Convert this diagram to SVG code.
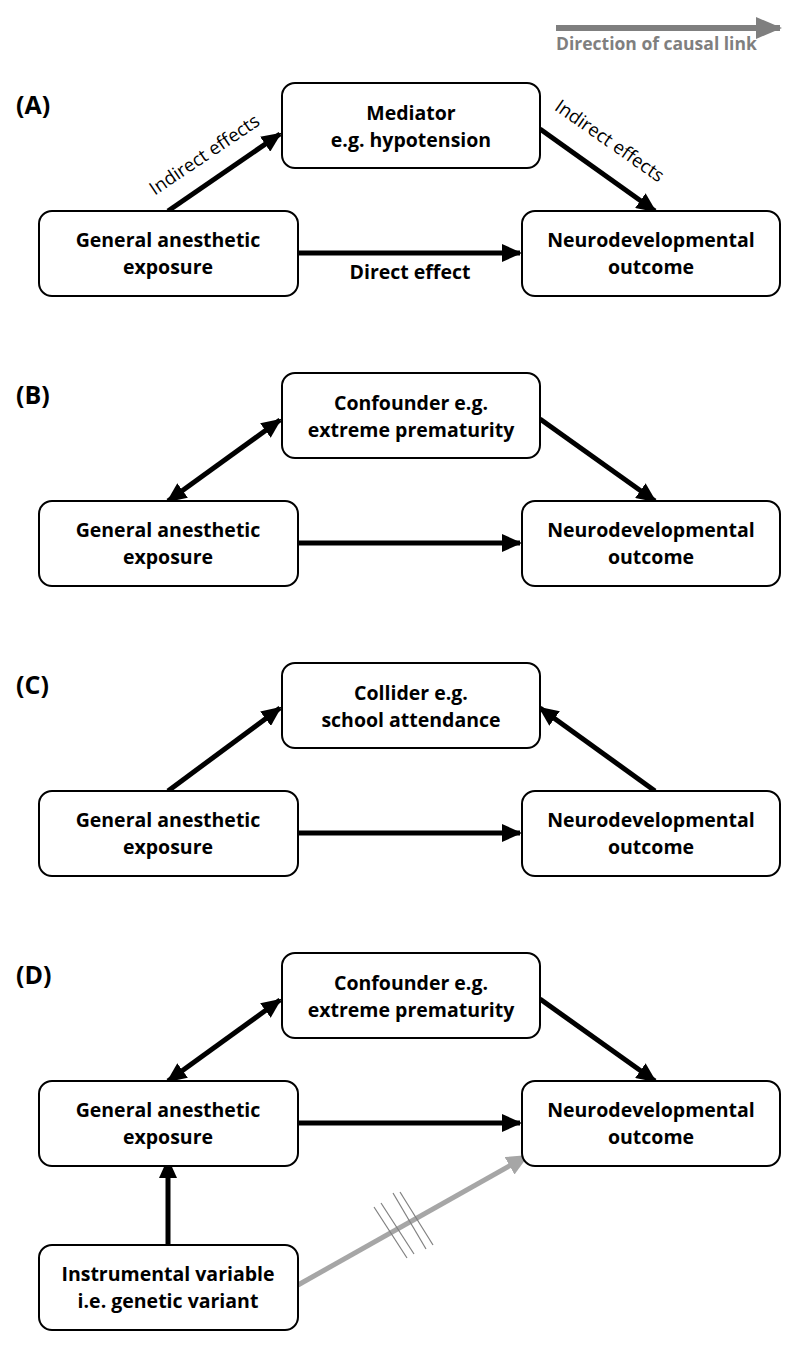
<svg xmlns="http://www.w3.org/2000/svg" width="800" height="1350" viewBox="0 0 800 1350">
<style>
.box{fill:#fff;stroke:#000;stroke-width:2}
.t{font-family:"Open Sans","Liberation Sans",sans-serif;font-weight:bold;font-size:19.5px;text-anchor:middle;fill:#000}
.lab{font-family:"Open Sans","Liberation Sans",sans-serif;font-weight:bold;font-size:25px;fill:#000}
.e{stroke:#000;stroke-width:5;fill:none}
.s{font-family:"Open Sans","Liberation Sans",sans-serif;font-size:18.5px;fill:#000}
</style>
<defs>
<marker id="ah" markerUnits="userSpaceOnUse" markerWidth="20" markerHeight="18" refX="18" refY="9" orient="auto"><path d="M0,0 L20,9 L0,18 Z" fill="#000"/></marker>
<marker id="as" markerUnits="userSpaceOnUse" markerWidth="20" markerHeight="18" refX="2" refY="9" orient="auto"><path d="M20,0 L0,9 L20,18 Z" fill="#000"/></marker>
<marker id="ag" markerUnits="userSpaceOnUse" markerWidth="22" markerHeight="20" refX="20" refY="10" orient="auto"><path d="M0,0 L22,10 L0,20 Z" fill="#a6a6a6"/></marker>
<marker id="ag2" markerUnits="userSpaceOnUse" markerWidth="26" markerHeight="22" refX="24" refY="11" orient="auto"><path d="M0,0 L26,11 L0,22 Z" fill="#7f7f7f"/></marker>
</defs>

<g id="legend">
<line x1="556" y1="28" x2="780" y2="28" stroke="#7f7f7f" stroke-width="6" marker-end="url(#ag2)"/>
<text x="556" y="50" font-family="Open Sans, Liberation Sans, sans-serif" font-weight="bold" font-size="17.5" fill="#7f7f7f">Direction of causal link</text>
</g>

<g id="connectors">
<!-- A -->
<line class="e" x1="168" y1="211" x2="280" y2="134" marker-end="url(#ah)"/>
<line class="e" x1="540" y1="129" x2="655" y2="211" marker-end="url(#ah)"/>
<line class="e" x1="298" y1="253" x2="520" y2="253" marker-end="url(#ah)"/>
<!-- B -->
<line class="e" x1="168" y1="501" x2="280" y2="420" marker-start="url(#as)" marker-end="url(#ah)"/>
<line class="e" x1="540" y1="419" x2="655" y2="501" marker-end="url(#ah)"/>
<line class="e" x1="298" y1="543" x2="520" y2="543" marker-end="url(#ah)"/>
<!-- C -->
<line class="e" x1="168" y1="791" x2="280" y2="708" marker-end="url(#ah)"/>
<line class="e" x1="655" y1="791" x2="540" y2="708" marker-end="url(#ah)"/>
<line class="e" x1="298" y1="833" x2="520" y2="833" marker-end="url(#ah)"/>
<!-- D -->
<line class="e" x1="168" y1="1081" x2="280" y2="1000" marker-start="url(#as)" marker-end="url(#ah)"/>
<line class="e" x1="540" y1="999" x2="655" y2="1081" marker-end="url(#ah)"/>
<line class="e" x1="298" y1="1123" x2="520" y2="1123" marker-end="url(#ah)"/>
<line class="e" x1="168" y1="1245" x2="168" y2="1160" marker-end="url(#ah)"/>
<line x1="298" y1="1285" x2="527" y2="1156" stroke="#a6a6a6" stroke-width="5" marker-end="url(#ag)"/>
<g stroke="#808080" stroke-width="1.2">
<line x1="374" y1="1207" x2="407" y2="1258"/>
<line x1="381" y1="1203" x2="414" y2="1254"/>
<line x1="393" y1="1193" x2="426" y2="1249"/>
<line x1="400" y1="1192" x2="433" y2="1245"/>
</g>
<text class="s" transform="translate(208,160) rotate(-34)" text-anchor="middle">Indirect effects</text>
<text class="s" transform="translate(606,146) rotate(35)" text-anchor="middle">Indirect effects</text>
<text class="t" x="410" y="279" font-size="16.5">Direct effect</text>
</g>

<g id="labels">
<text class="lab" x="16" y="114">(A)</text>
<text class="lab" x="16" y="404">(B)</text>
<text class="lab" x="16" y="694">(C)</text>
<text class="lab" x="16" y="984">(D)</text>
</g>

<g id="A-mediator"><rect class="box" x="282" y="83" width="258" height="85" rx="13"/><text class="t" x="411" y="120">Mediator</text><text class="t" x="411" y="147">e.g. hypotension</text></g>
<g id="A-exposure"><rect class="box" x="39" y="211" width="259" height="85" rx="13"/><text class="t" x="168" y="247">General anesthetic</text><text class="t" x="168" y="274">exposure</text></g>
<g id="A-outcome"><rect class="box" x="522" y="211" width="258" height="85" rx="13"/><text class="t" x="651" y="247">Neurodevelopmental</text><text class="t" x="651" y="274">outcome</text></g>

<g id="B-confounder"><rect class="box" x="282" y="373" width="258" height="85" rx="13"/><text class="t" x="411" y="410">Confounder e.g.</text><text class="t" x="411" y="437">extreme prematurity</text></g>
<g id="B-exposure"><rect class="box" x="39" y="501" width="259" height="85" rx="13"/><text class="t" x="168" y="537">General anesthetic</text><text class="t" x="168" y="564">exposure</text></g>
<g id="B-outcome"><rect class="box" x="522" y="501" width="258" height="85" rx="13"/><text class="t" x="651" y="537">Neurodevelopmental</text><text class="t" x="651" y="564">outcome</text></g>

<g id="C-collider"><rect class="box" x="282" y="663" width="258" height="85" rx="13"/><text class="t" x="411" y="700">Collider e.g.</text><text class="t" x="411" y="727">school attendance</text></g>
<g id="C-exposure"><rect class="box" x="39" y="791" width="259" height="85" rx="13"/><text class="t" x="168" y="827">General anesthetic</text><text class="t" x="168" y="854">exposure</text></g>
<g id="C-outcome"><rect class="box" x="522" y="791" width="258" height="85" rx="13"/><text class="t" x="651" y="827">Neurodevelopmental</text><text class="t" x="651" y="854">outcome</text></g>

<g id="D-confounder"><rect class="box" x="282" y="953" width="258" height="85" rx="13"/><text class="t" x="411" y="990">Confounder e.g.</text><text class="t" x="411" y="1017">extreme prematurity</text></g>
<g id="D-exposure"><rect class="box" x="39" y="1081" width="259" height="85" rx="13"/><text class="t" x="168" y="1117">General anesthetic</text><text class="t" x="168" y="1144">exposure</text></g>
<g id="D-outcome"><rect class="box" x="522" y="1081" width="258" height="85" rx="13"/><text class="t" x="651" y="1117">Neurodevelopmental</text><text class="t" x="651" y="1144">outcome</text></g>
<g id="D-instrument"><rect class="box" x="39" y="1245" width="259" height="85" rx="13"/><text class="t" x="168" y="1281">Instrumental variable</text><text class="t" x="168" y="1308">i.e. genetic variant</text></g>
</svg>
